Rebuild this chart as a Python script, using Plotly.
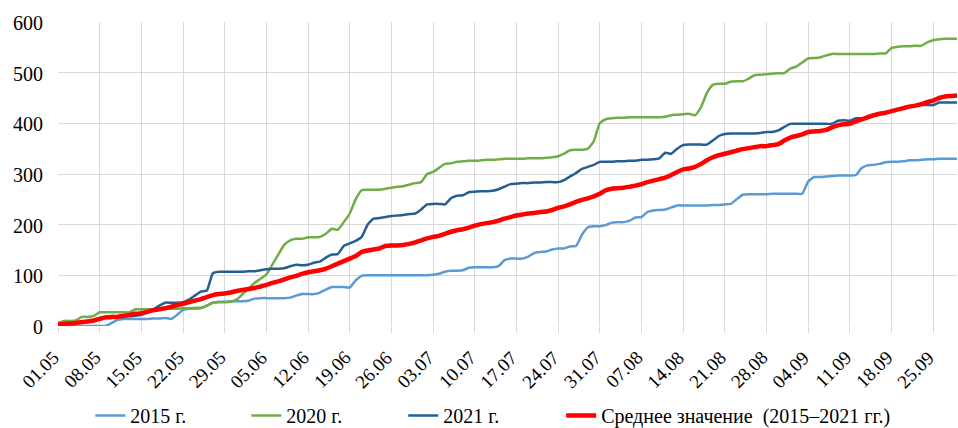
import pandas as pd
import plotly.graph_objects as go

# Daily accumulated values, 01.05 – 29.09
season_start = "2021-05-01"

s2015 = [
    0, 0, 0, 0, 0, 0, 0, 0, 0, 6,
    12, 14, 14, 14, 14, 14, 15, 15, 16, 14,
    22, 32, 34, 34, 35, 40, 46, 48, 48, 49,
    49, 49, 50, 54, 55, 55, 55, 55, 55, 56,
    60, 63, 63, 63, 66, 72, 77, 77, 77, 76,
    90, 99, 100, 100, 100, 100, 100, 100, 100, 100,
    100, 100, 100, 101, 103, 107, 109, 109, 110, 115,
    116, 116, 116, 116, 118, 130, 133, 133, 133, 137,
    144, 146, 147, 151, 153, 153, 157, 158, 180, 195,
    197, 197, 199, 204, 205, 205, 208, 214, 215, 225,
    228, 229, 230, 234, 238, 238, 238, 238, 238, 238,
    239, 239, 240, 241, 250, 259, 260, 260, 260, 260,
    261, 261, 261, 261, 261, 261, 285, 294, 294, 295,
    296, 297, 297, 297, 298, 312, 317, 318, 320, 323,
    324, 324, 325, 327, 327, 328, 329, 329, 330, 330,
    330, 330,
]

s2020 = [
    6, 10, 10, 11, 18, 18, 20, 27, 27, 27,
    27, 27, 27, 33, 33, 33, 33, 34, 34, 34,
    34, 35, 35, 36, 36, 40, 46, 47, 47, 48,
    52, 63, 74, 85, 93, 102, 121, 141, 160, 169,
    172, 172, 175, 175, 176, 182, 192, 190, 205, 222,
    250, 268, 269, 269, 269, 271, 273, 275, 276, 279,
    282, 284, 300, 304, 312, 320, 321, 324, 325, 326,
    326, 327, 328, 328, 329, 330, 330, 330, 330, 331,
    331, 331, 332, 333, 335, 340, 347, 348, 348, 350,
    365, 400, 408, 410, 411, 411, 412, 412, 412, 412,
    412, 412, 413, 416, 417, 418, 419, 416, 432, 460,
    476, 478, 478, 482, 483, 483, 488, 495, 496, 497,
    498, 499, 499, 508, 512, 520, 528, 529, 530, 534,
    537, 537, 537, 537, 537, 537, 537, 537, 538, 538,
    549, 551, 552, 552, 553, 553, 560, 564, 566, 567,
    567, 567,
]

s2021 = [
    3, 4, 5, 6, 8, 9, 11, 14, 16, 16,
    17, 18, 19, 20, 22, 27, 33, 40, 46, 46,
    46, 47, 52, 60, 68, 70, 104, 107, 107, 107,
    107, 107, 108, 108, 110, 112, 113, 113, 114, 118,
    121, 120, 121, 125, 127, 135, 141, 142, 158, 163,
    168, 176, 200, 212, 213, 215, 217, 218, 219, 221,
    222, 230, 240, 241, 241, 240, 252, 257, 258, 264,
    265, 266, 266, 267, 270, 275, 280, 281, 282, 282,
    283, 283, 284, 284, 284, 288, 295, 302, 310, 314,
    318, 324, 324, 324, 325, 325, 326, 326, 328, 328,
    329, 331, 342, 340, 350, 357, 358, 358, 358, 358,
    366, 375, 379, 380, 380, 380, 380, 380, 381, 383,
    383, 386, 393, 399, 399, 399, 399, 399, 399, 399,
    399, 405, 406, 405, 410, 410, 410, 416, 419, 421,
    424, 427, 429, 432, 435, 436, 436, 436, 441, 441,
    441, 441,
]

s_mean = [
    3, 4, 5, 6, 8, 9, 11, 14, 17, 18,
    18, 20, 22, 24, 25, 28, 31, 33, 35, 38,
    41, 44, 47, 50, 53, 57, 61, 63, 64, 66,
    69, 71, 73, 75, 78, 81, 85, 88, 92, 96,
    99, 103, 106, 108, 110, 113, 118, 123, 128, 133,
    138, 146, 149, 151, 153, 158, 159, 159, 160, 162,
    165, 169, 173, 176, 178, 182, 186, 189, 191, 194,
    198, 201, 203, 205, 208, 212, 215, 218, 220, 222,
    223, 225, 226, 229, 233, 236, 240, 245, 249, 252,
    256, 261, 268, 271, 272, 273, 275, 277, 280, 284,
    287, 290, 293, 298, 304, 309, 311, 314, 320, 327,
    333, 337, 340, 343, 346, 349, 351, 353, 355, 355,
    357, 359, 366, 372, 375, 378, 383, 384, 385, 387,
    392, 396, 398, 399, 404, 408, 412, 416, 419, 421,
    424, 427, 430, 433, 435, 438, 442, 445, 450, 453,
    454, 455,
]

tick_labels = [
    "01.05", "08.05", "15.05", "22.05", "29.05", "05.06", "12.06", "19.06",
    "26.06", "03.07", "10.07", "17.07", "24.07", "31.07", "07.08", "14.08",
    "21.08", "28.08", "04.09", "11.09", "18.09", "25.09",
]
y_ticks = [0, 100, 200, 300, 400, 500, 600]

series_names = ["2015 г.", "2020 г.", "2021 г.", "Среднее значение\u00a0 (2015–2021 гг.)"]
series_colors = ["#5B9BD5", "#70AD47", "#255E91", "#FF0000"]
series_widths = [2.5, 2.5, 2.5, 4.5]
# each series gets its own legend box so the entries sit at fixed spots
legend_ids = ["legend", "legend2", "legend3", "legend4"]
legend_x = [0.036, 0.2095, 0.384, 0.5597]

dates = pd.date_range(season_start, periods=len(s2015), freq="D")
tick_dates = [pd.Timestamp(f"2021-{lbl[3:5]}-{lbl[0:2]}") for lbl in tick_labels]

font_family = "Liberation Serif"

fig = go.Figure()
for name, values, color, width, leg in zip(
    series_names, [s2015, s2020, s2021, s_mean], series_colors, series_widths, legend_ids
):
    fig.add_trace(
        go.Scatter(
            x=dates,
            y=values,
            mode="lines",
            name=name,
            legend=leg,
            line=dict(color=color, width=width, shape="spline", smoothing=0.5),
        )
    )

legend_style = dict(
    orientation="h",
    xanchor="left",
    y=-0.294,
    yanchor="middle",
    font=dict(family=font_family, size=20, color="black"),
    bgcolor="rgba(0,0,0,0)",
)

# axis labels as serif annotations anchored to the axis values
label_font = dict(family=font_family, size=19, color="black")
annotations = [
    dict(
        x=d, xref="x", y=0, yref="y",
        text=lbl, showarrow=False, textangle=-45,
        xanchor="right", yanchor="top", xshift=8, yshift=-18,
        font=label_font,
    )
    for d, lbl in zip(tick_dates, tick_labels)
]
annotations += [
    dict(
        x=0, xref="paper", y=v, yref="y",
        text=str(v), showarrow=False,
        xanchor="right", yanchor="middle", xshift=-13, yshift=-1,
        font=dict(family=font_family, size=20, color="black"),
    )
    for v in y_ticks
]

fig.update_layout(
    width=958,
    height=428,
    template="none",
    paper_bgcolor="white",
    plot_bgcolor="white",
    font=dict(family=font_family, size=20, color="black"),
    margin=dict(l=58, r=1, t=22, b=102, autoexpand=False),
    showlegend=True,
    annotations=annotations,
)
fig.update_layout(
    {leg: dict(legend_style, x=lx) for leg, lx in zip(legend_ids, legend_x)}
)

fig.update_xaxes(
    type="date",
    range=[dates[0], dates[-1]],
    tickmode="array",
    tickvals=tick_dates,
    showticklabels=False,
    showgrid=True,
    gridcolor="#D9D9D9",
    gridwidth=1,
    ticks="outside",
    ticklen=6,
    tickcolor="#D9D9D9",
    showline=False,
    zeroline=False,
    automargin=False,
)

fig.update_yaxes(
    range=[0, 600],
    tickmode="array",
    tickvals=y_ticks,
    showticklabels=False,
    showgrid=True,
    gridcolor="#D9D9D9",
    gridwidth=1,
    ticks="",
    showline=False,
    zeroline=False,
    automargin=False,
)

fig.write_html("out.html")
